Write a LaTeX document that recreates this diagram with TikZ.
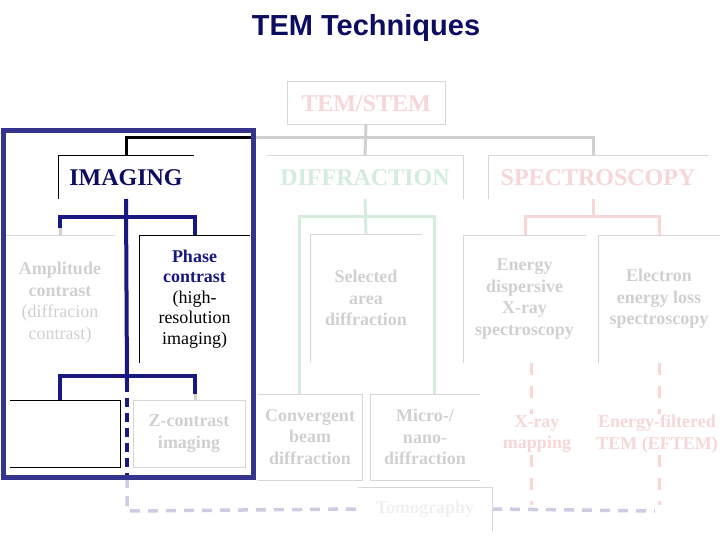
\documentclass[tikz,border=0pt]{standalone}
\usepackage{fontspec}
\setmainfont{Liberation Serif}
\newfontfamily\headfont{Liberation Sans}

\definecolor{titlenavy}{RGB}{12,12,96}
\definecolor{framenavy}{RGB}{52,52,140}
\definecolor{treenavy}{RGB}{24,24,128}
\definecolor{fadegray}{RGB}{208,208,208}
\definecolor{edgegray}{RGB}{214,214,214}
\definecolor{fadepink}{RGB}{246,214,214}
\definecolor{fadegreen}{RGB}{212,236,222}
\definecolor{fadelav}{RGB}{204,204,228}

\begin{document}
\begin{tikzpicture}[
        x=1pt, y=-1pt,
        box/.style={minimum width=#1, inner sep=0pt, outer sep=0pt, align=center},
        head/.style={font=\fontsize{24}{28}\selectfont\bfseries},
        lbl/.style={font=\fontsize{18}{21.5}\selectfont\bfseries, text=fadegray},
        edge/.style={draw=edgegray, line width=1pt},
        gline/.style={draw=fadegray, line width=3pt},
        nline/.style={draw=treenavy, line width=4pt},
        dline/.style={draw=fadegreen, line width=3pt},
        pline/.style={draw=fadepink, line width=3pt},
        pdash/.style={pline, dash pattern=on 12pt off 11pt},
        ldash/.style={draw=fadelav, line width=3.5pt, dash pattern=on 10pt off 8pt}
    ]
        \clip (0,0) rectangle (720,540);

        \node[font=\fontsize{29}{31}\headfont\bfseries, text=titlenavy] (title) at (366,28) {TEM Techniques};

        \node[box=158pt, minimum height=43pt, head, text=fadepink, draw=edgegray, line width=1pt] (stem) at (366,103.5) {TEM/STEM};
        \node[box=136pt, minimum height=43pt, head, text=titlenavy] (imag) at (126,177.5) {IMAGING};
        \node[box=196pt, minimum height=43pt, head, text=fadegreen] (diff) at (365,177.5) {DIFFRACTION};
        \node[box=220pt, minimum height=43pt, head, text=fadepink] (spec) at (598,177.5) {SPECTROSCOPY};

        \node[box=110pt, minimum height=135pt, lbl] (ampl) at (60,302.5) {Amplitude\\contrast\\\textmd{(diffracion}\\\textmd{contrast)}};
        \node[box=111pt, minimum height=128pt, lbl, text=treenavy, font=\fontsize{18}{20.5}\selectfont\bfseries] (phase) at (194.5,299) {Phase\\contrast\\\textmd{\color{black}(high-}\\\textmd{\color{black}resolution}\\\textmd{\color{black}imaging)}};
        \node[box=112pt, minimum height=128pt, lbl] (sel) at (366,298) {Selected\\area\\diffraction};
        \node[box=123pt, minimum height=128pt, lbl] (eds) at (524.5,299) {Energy\\dispersive\\X-ray\\spectroscopy};
        \node[box=122pt, minimum height=128pt, lbl] (eels) at (659,299) {Electron\\energy loss\\spectroscopy};

        \node[box=110pt, minimum height=67pt] (blank) at (65,433.5) {};
        \node[box=112pt, minimum height=67pt, lbl] (zcon) at (189,433.5) {Z-contrast\\imaging};
        \node[box=104pt, minimum height=86pt, lbl] (cbd) at (310,437) {Convergent\\beam\\diffraction};
        \node[box=110pt, minimum height=86pt, lbl] (micro) at (425,437) {Micro-/\\nano-\\diffraction};
        \node[box=134pt, minimum height=44pt, lbl, text=black!6] (tomo) at (425,509) {Tomography};

        \coordinate (jtop) at (366,138);
        \coordinate (jframe) at (252,138);
        \coordinate (ib1) at (127,217);
        \coordinate (ib2) at (127,376);
        \coordinate (isplit) at (127,383);
        \coordinate (iend) at (127,478);
        \coordinate (lb) at (127,511);
        \coordinate (lend) at (655,511);
        \coordinate (ast) at (60,228);
        \coordinate (zst) at (195,394);
        \coordinate (db) at (366,217);
        \coordinate (sb) at (593,217);
        \coordinate (xtop) at (531,363);
        \coordinate (xbot) at (531,505);
        \coordinate (etop) at (659,363);
        \coordinate (ebot) at (659,505);

        % top level
        \draw[gline] (stem.south) -- (diff.north);
        \draw[gline] (jframe) -| ([xshift=-5pt]spec.north);
        \draw[draw=black, line width=3pt] (imag.north) |- (jframe);

        % imaging branch
        \draw[nline] (imag.south) -- (isplit);
        \draw[nline, dash pattern=on 9pt off 6pt] (isplit) -- (iend);
        \draw[nline] (ib1) -| (ast);
        \draw[gline] (ast) -- (ampl.north);
        \draw[nline] (ib1) -| (phase.north);
        \draw[nline] (ib2) -| ([xshift=-5pt]blank.north);
        \draw[nline] (ib2) -| (zst);
        \draw[gline] (zst) -- ([xshift=6pt]zcon.north);

        % diffraction branch
        \draw[dline] (diff.south) -- (sel.north);
        \draw[dline] (db) -| ([xshift=-11pt]cbd.north);
        \draw[dline] (db) -| ([xshift=9pt]micro.north);

        % spectroscopy branch
        \draw[pline] ([xshift=-5pt]spec.south) -- (sb);
        \draw[pline] (sb) -| ([xshift=0.5pt]eds.north);
        \draw[pline] (sb) -| (eels.north);
        \draw[pdash] (xtop) -- (xbot);
        \draw[pdash] (etop) -- (ebot);

        \draw[ldash] (iend) -- (lb) -- (tomo.west);
        \draw[ldash] (tomo.east) -- (lend);

        \node[lbl, text=fadepink, fill=white, align=center, inner sep=1pt] (xmap) at (537,434) {X-ray\\mapping};
        \node[lbl, text=fadepink, fill=white, align=center, inner sep=1pt] (eftem) at (657,434) {Energy-filtered\\TEM (EFTEM)};

        % box edges
        \draw[edge, draw=black] (imag.south west) |- (imag.north east);
        \draw[edge] (diff.north west) -| (diff.south east);
        \draw[edge] (spec.south west) |- (spec.north east);
        \draw[edge] (ampl.south west) |- (ampl.north east);
        \draw[edge, draw=black] (phase.south west) |- (phase.north east);
        \draw[edge] (sel.south west) |- (sel.north east);
        \draw[edge] (eds.south west) |- (eds.north east);
        \draw[edge] (eels.south west) |- (eels.north east);
        \draw[edge, draw=black] (blank.north west) -| (blank.south east) -- (blank.south west);
        \draw[edge] (zcon.north west) rectangle (zcon.south east);
        \draw[edge] (cbd.north west) -| (cbd.south east) -- (cbd.south west);
        \draw[edge] (micro.north east) -| (micro.south west) -- (micro.south east);
        \draw[edge] (tomo.north west) -| (tomo.south east);

        \draw[draw=framenavy, line width=5pt] (3,131) rectangle (253,477);
    \end{tikzpicture}
\end{document}
